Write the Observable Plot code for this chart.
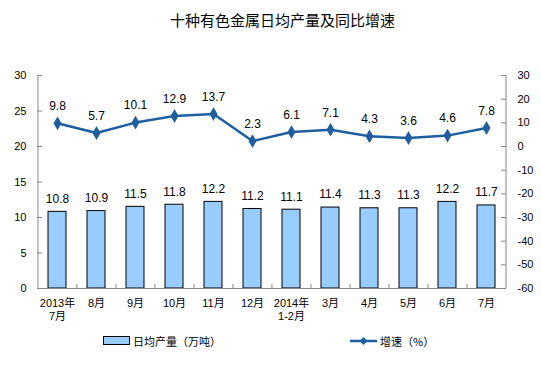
<!DOCTYPE html>
<html><head><meta charset="utf-8">
<script src="https://cdn.jsdelivr.net/npm/d3@7"></script>
<script src="https://cdn.jsdelivr.net/npm/@observablehq/plot@0.6"></script>
<style>
body{margin:0;background:#fff;font-family:"Liberation Sans","Noto Sans CJK SC",sans-serif;}
#wrap{position:relative;width:541px;height:366px;background:#fff;}
#title{position:absolute;left:0;top:10px;width:541px;text-align:center;padding-left:24px;box-sizing:border-box;font:15px "Noto Sans CJK SC",sans-serif;color:#000;line-height:20px;}
#chart{position:absolute;left:0;top:45px;}
.leg{position:absolute;top:333px;font:11px "Noto Sans CJK SC",sans-serif;color:#000;display:flex;align-items:center;line-height:16px;}
</style></head>
<body>
<div id="wrap">
<div id="title">十种有色金属日均产量及同比增速</div>
<div id="chart"></div>
<div class="leg" style="left:103px"><svg width="30" height="12"><rect x="0.5" y="1.5" width="26" height="8" fill="#99CCFF" stroke="#000"/></svg><span>日均产量（万吨）</span></div>
<div class="leg" style="left:350px"><svg width="30" height="12"><line x1="0" y1="6" x2="27" y2="6" stroke="#1F5FA0" stroke-width="2.5"/><path d="M13.5,2 L17.5,6 L13.5,10 L9.5,6Z" fill="#1F5FA0"/></svg><span>增速（%）</span></div>
</div>
<script>
const categories = ["2013年\n7月","8月","9月","10月","11月","12月","2014年\n1-2月","3月","4月","5月","6月","7月"];
const output = [10.8,10.9,11.5,11.8,12.2,11.2,11.1,11.4,11.3,11.3,12.2,11.7];
const growth = [9.8,5.7,10.1,12.9,13.7,2.3,6.1,7.1,4.3,3.6,4.6,7.8];
const leftTicks = [0,5,10,15,20,25,30];
const rightTicks = [-60,-50,-40,-30,-20,-10,0,10,20,30];

const W = 541, H = 285, mL = 37, mR = 35, mT = 30, mB = 42;
const pw = W - mL - mR, ph = H - mT - mB;
const step = pw / categories.length;
const toLeft = v => (v + 60) / 3;
const data = categories.map((c, i) => ({cat: c, output: output[i], growth: growth[i], g: toLeft(growth[i])}));
const axisColor = "#868686";
const lineColor = "#1F5FA0";

const chart = Plot.plot({
  width: W, height: H, marginLeft: mL, marginRight: mR, marginTop: mT, marginBottom: mB,
  style: {fontFamily: "'Liberation Sans','Noto Sans CJK SC',sans-serif", fontSize: "11px", color: "#000", background: "#fff"},
  x: {domain: categories, paddingInner: 0.54, paddingOuter: 0.27, label: null},
  y: {domain: [0, 30], label: null},
  marks: [
    Plot.barY(data, {x: "cat", y: "output", fill: "#99CCFF", stroke: "#000", strokeWidth: 1}),
    Plot.ruleY([0], {stroke: axisColor}),
    Plot.ruleX([categories[0]], {x: d => d, dx: -step / 2, stroke: axisColor}),
    Plot.ruleX([categories[categories.length - 1]], {x: d => d, dx: step / 2, stroke: axisColor}),
    Plot.ruleY(leftTicks, {y: d => d, insetRight: pw - 5, stroke: axisColor}),
    Plot.ruleY(rightTicks.map(toLeft), {y: d => d, insetLeft: pw - 5, stroke: axisColor}),
    Plot.ruleX(categories.slice(1), {x: d => d, dx: -step / 2, insetTop: ph - 4, stroke: axisColor}),
    Plot.axisY({ticks: leftTicks, anchor: "left", tickSize: 0, tickPadding: 11, label: null, fontSize: 11}),
    Plot.axisY({ticks: rightTicks.map(toLeft), tickFormat: d => String(Math.round(d * 3 - 60)), anchor: "right", tickSize: 0, tickPadding: 11, label: null, fontSize: 11}),
    Plot.axisX({tickSize: 0, tickPadding: 9, label: null, fontFamily: "'Liberation Sans','Noto Sans CJK SC',sans-serif", fontSize: 11, lineHeight: 1.2}),
    Plot.line(data, {x: "cat", y: "g", stroke: lineColor, strokeWidth: 2.5}),
    Plot.dot(data, {x: "cat", y: "g", symbol: "diamond", r: 4.2, fill: lineColor, stroke: null}),
    Plot.text(data, {x: "cat", y: "output", text: d => d.output.toFixed(1), dy: -13, fontSize: 12}),
    Plot.text(data, {x: "cat", y: "g", text: d => d.growth.toFixed(1), dy: -17, fontSize: 12})
  ]
});
document.getElementById("chart").appendChild(chart);
</script>
</body></html>
